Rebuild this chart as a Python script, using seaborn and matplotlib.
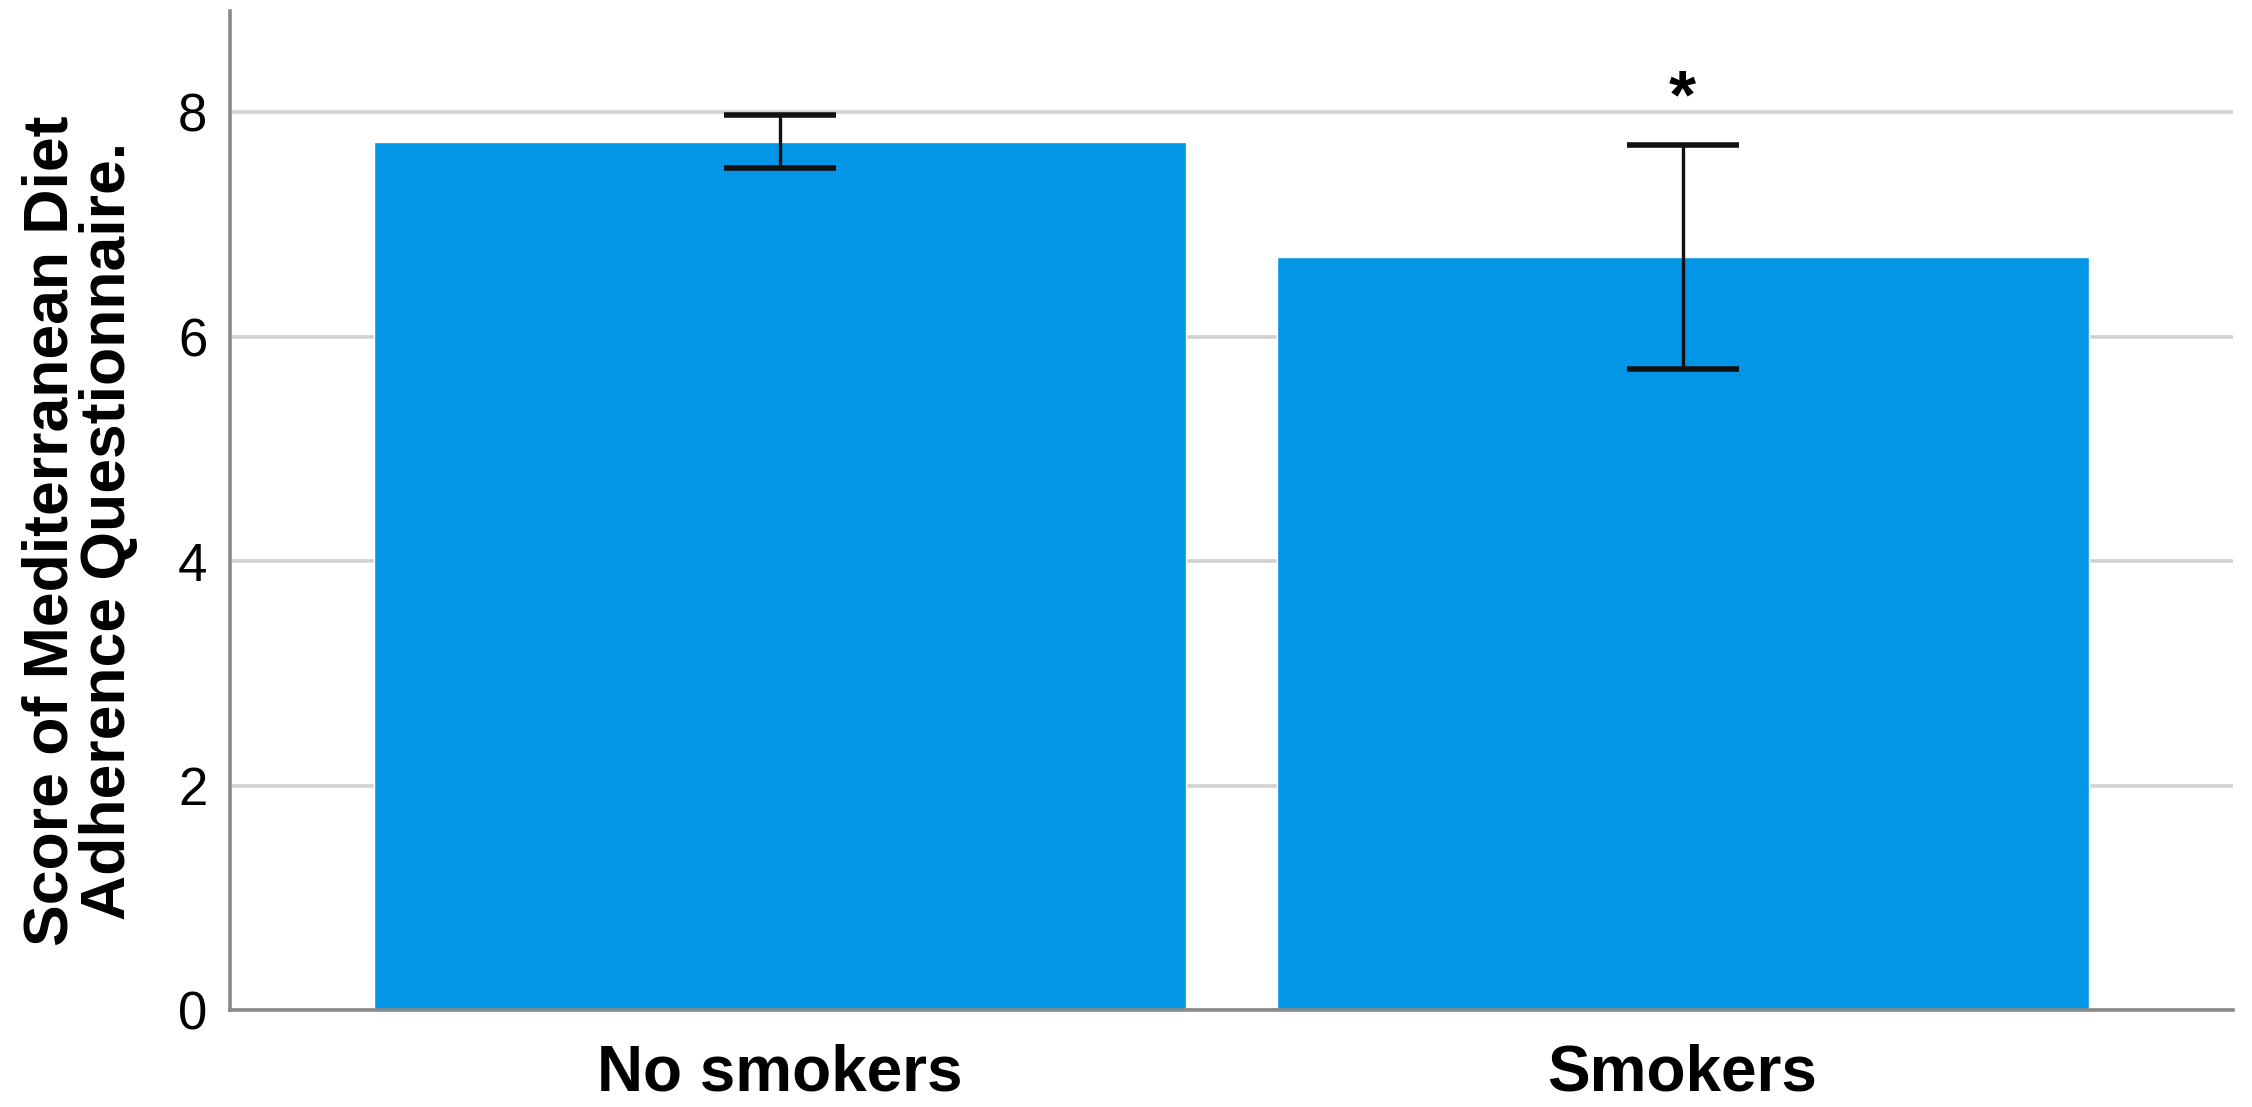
import matplotlib

matplotlib.use("Agg")

import matplotlib.pyplot as plt
import numpy as np
import pandas as pd
import seaborn as sns


GROUPS = ["No smokers", "Smokers"]
MEAN_SCORE = [7.73, 6.71]
CI_LOW = [7.50, 5.71]
CI_HIGH = [7.97, 7.71]
SIGNIFICANT = ["", "*"]
Y_TICKS = [0, 2, 4, 6, 8]

BAR_COLOR = "#0396E6"
GRID_COLOR = "#D2D2D2"
SPINE_COLOR = "#8A8A8A"


def configure_style():
    sns.set_theme(style="white")
    plt.rcParams.update(
        {
            "font.family": ["Liberation Sans", "DejaVu Sans"],
            "figure.facecolor": "#FFFFFF",
            "axes.facecolor": "#FFFFFF",
            "axes.labelcolor": "#000000",
            "text.color": "#000000",
            "xtick.color": "#000000",
            "ytick.color": "#000000",
        }
    )


def main():
    configure_style()
    df = pd.DataFrame({"group": GROUPS, "score": MEAN_SCORE})

    fig = plt.figure(figsize=(22.52, 11.07), dpi=100)
    ax = fig.add_axes([0.102, 0.0876, 0.8896, 0.9024])

    ax.set_axisbelow(True)
    ax.grid(axis="y", color=GRID_COLOR, linewidth=2.6)

    sns.barplot(
        data=df,
        x="group",
        y="score",
        color=BAR_COLOR,
        saturation=1,
        width=0.9,
        errorbar=None,
        ax=ax,
        zorder=2,
    )

    x_pos = np.arange(len(GROUPS))
    means = np.array(MEAN_SCORE)
    yerr = np.vstack([means - np.array(CI_LOW), np.array(CI_HIGH) - means])
    ax.errorbar(
        x_pos,
        means,
        yerr=yerr,
        fmt="none",
        ecolor="#111111",
        elinewidth=2.4,
        capsize=40,
        capthick=4,
        zorder=3,
    )

    for x, hi, mark in zip(x_pos, CI_HIGH, SIGNIFICANT):
        if mark:
            ax.text(x, hi + 0.40, mark, ha="center", va="center",
                    fontsize=50, fontweight="bold")

    ax.set_xlim(-0.61, 1.61)
    ax.set_ylim(0, 8.9)
    ax.set_yticks(Y_TICKS)
    ax.tick_params(axis="y", length=0, labelsize=38, pad=16)
    ax.tick_params(axis="x", length=0, labelsize=46, pad=24)
    for lab in ax.get_xticklabels():
        lab.set_fontweight("bold")

    ax.set_xlabel("")
    ax.set_ylabel("Score of Mediterranean Diet\nAdherence Questionnaire.",
                  fontsize=45, fontweight="bold", linespacing=0.95)
    ax.yaxis.set_label_coords(-0.046, 0.48)

    for side in ["top", "right"]:
        ax.spines[side].set_visible(False)
    for side in ["left", "bottom"]:
        ax.spines[side].set_color(SPINE_COLOR)
        ax.spines[side].set_linewidth(2.6)

    fig.savefig("out.png", dpi=100, facecolor="white")
    plt.close(fig)


if __name__ == "__main__":
    main()
